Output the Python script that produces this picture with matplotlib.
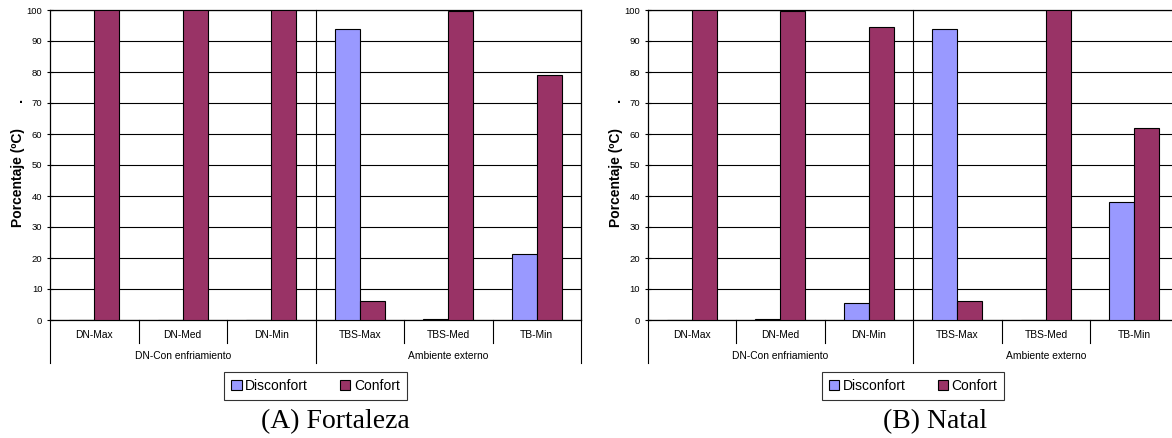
import matplotlib
matplotlib.use("Agg")
import matplotlib.pyplot as plt
import numpy as np

plt.rcParams['font.family'] = ['Liberation Sans', 'DejaVu Sans']

# datos
categorias = ['DN-Max', 'DN-Med', 'DN-Min', 'TBS-Max', 'TBS-Med', 'TB-Min']
grupos = ['DN-Con enfriamiento', 'Ambiente externo']
series = ['Disconfort', 'Confort']

fortaleza_disconfort = [0, 0, 0, 94, 0.4, 21.2]
fortaleza_confort = [100, 100, 100, 6.1, 99.6, 78.9]
natal_disconfort = [0, 0.2, 5.4, 93.9, 0, 38]
natal_confort = [100, 99.8, 94.6, 6.1, 100, 62]

titulos = ['(A) Fortaleza', '(B) Natal']
colores = ['#9999ff', '#993366']

W, H = 1172, 438
fig = plt.figure(figsize=(W / 100, H / 100), dpi=100)


def panel(x0_px, disc, conf):
    ax = fig.add_axes([x0_px / W, (H - 320) / H, 531 / W, 310 / H])
    x = np.arange(len(categorias))
    bw = 0.283
    ax.bar(x - bw / 2, disc, bw, color=colores[0], edgecolor='black',
           linewidth=0.8, label=series[0], zorder=3)
    ax.bar(x + bw / 2, conf, bw, color=colores[1], edgecolor='black',
           linewidth=0.8, label=series[1], zorder=3)
    ax.set_xlim(-0.5, len(categorias) - 0.5)
    ax.set_ylim(0, 100)
    ax.set_yticks(range(0, 101, 10))
    ax.set_xticks([])
    ax.tick_params(axis='y', direction='inout', length=5, width=0.8,
                   labelsize=6.8, pad=3, colors='black')
    ax.yaxis.grid(True, color='black', linewidth=0.8, zorder=0)
    for s in ax.spines.values():
        s.set_linewidth(0.9)
    tr = ax.get_xaxis_transform()
    # separadores de categorias y grupos
    for b in [0.5, 1.5, 3.5, 4.5]:
        ax.plot([b, b], [0, -0.073], transform=tr, color='black',
                linewidth=0.8, clip_on=False)
    for b in [-0.5, 5.5]:
        ax.plot([b, b], [0, -0.139], transform=tr, color='black',
                linewidth=0.8, clip_on=False)
    ax.plot([2.5, 2.5], [1, -0.139], transform=tr, color='black',
            linewidth=0.8, clip_on=False, zorder=4)
    for i, c in enumerate(categorias):
        ax.text(i, -0.048, c, transform=tr, ha='center', va='center',
                fontsize=7.4)
    for i, g in enumerate(grupos):
        ax.text(1 + 3 * i, -0.116, g, transform=tr, ha='center',
                va='center', fontsize=7.4)
    ax.text(-32 / 531, 0.46, 'Porcentaje (ºC)', transform=ax.transAxes,
            rotation=90, ha='center', va='center', fontsize=10,
            fontweight='bold')
    ax.text(-29 / 531, 0.70, '.', transform=ax.transAxes, ha='center',
            va='baseline', fontsize=10, fontweight='bold')
    leg = ax.legend(loc='upper center', bbox_to_anchor=(0.5, -0.168),
                    ncol=2, frameon=True, fancybox=False, fontsize=10,
                    handlelength=0.75, handleheight=0.75,
                    handletextpad=0.25, columnspacing=2.3,
                    borderpad=0.5, borderaxespad=0)
    leg.get_frame().set_edgecolor('black')
    leg.get_frame().set_linewidth(0.8)
    return ax


panel(50, fortaleza_disconfort, fortaleza_confort)
panel(647.7, natal_disconfort, natal_confort)

fig.text(335 / W, 1 - 422 / H, titulos[0], ha='center', va='center',
         fontsize=20, family='Liberation Serif')
fig.text(935 / W, 1 - 422 / H, titulos[1], ha='center', va='center',
         fontsize=20, family='Liberation Serif')

fig.savefig('out.png', dpi=100)
